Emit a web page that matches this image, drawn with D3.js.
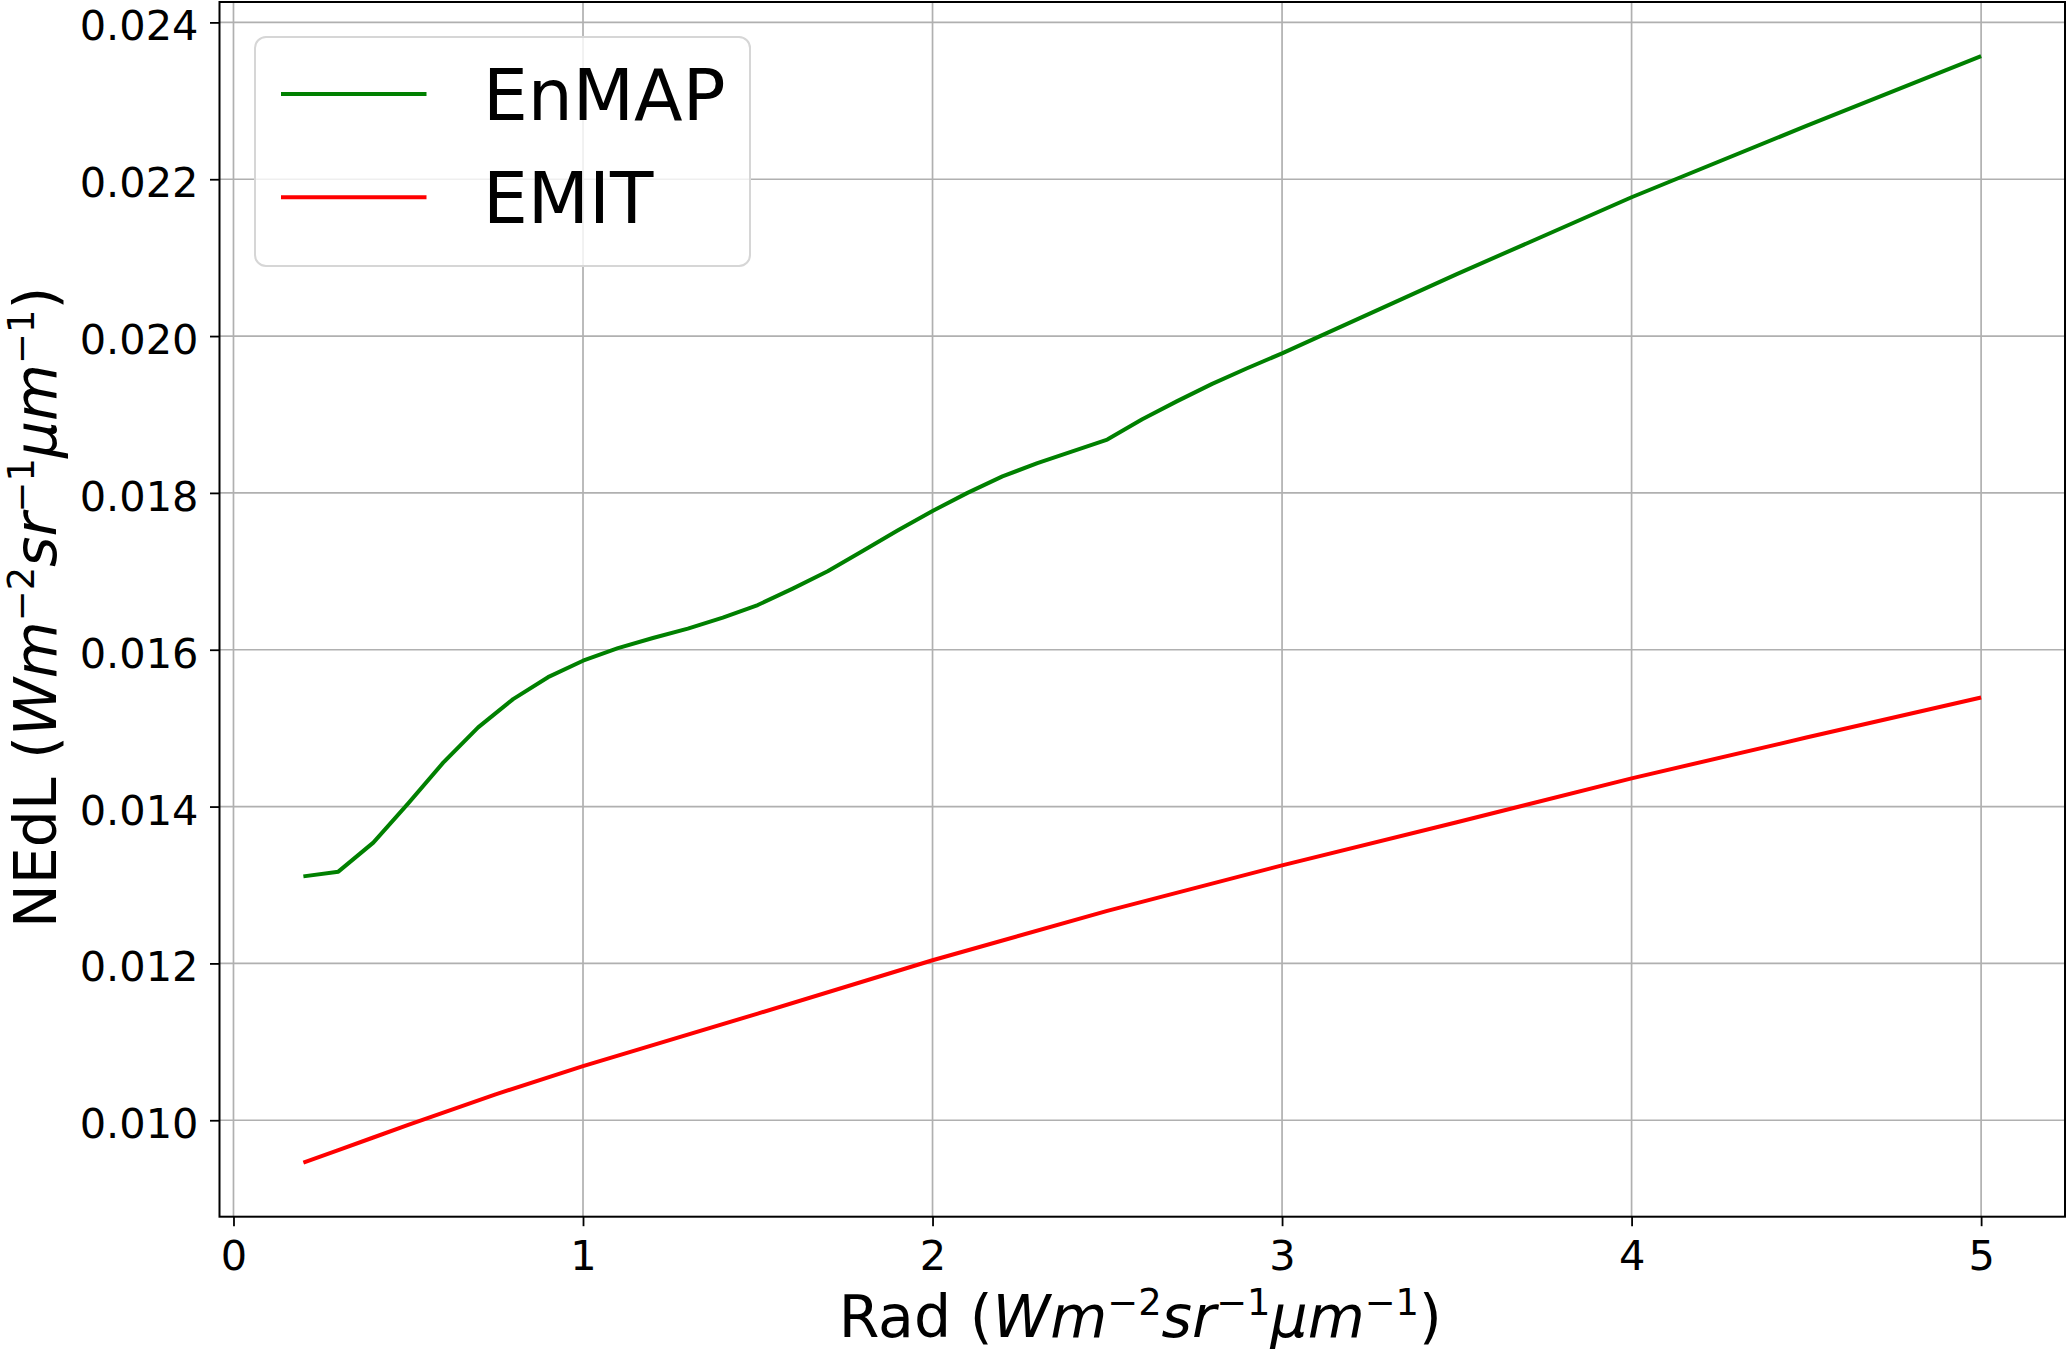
<!DOCTYPE html>
<html><head><meta charset="utf-8">
<script src="https://cdn.jsdelivr.net/npm/d3@7"></script>
<style>
html,body{margin:0;padding:0;background:#fff;}
svg{display:block;font-family:"DejaVu Sans",sans-serif;}
</style>
</head><body>
<svg id="chart" width="2067" height="1352"></svg>
<script>
// ---- data ----
const radEnMAP = [0.2,0.3,0.4,0.5,0.6,0.7,0.8,0.9,1.0,1.1,1.2,1.3,1.4,1.5,1.6,1.7,1.8,1.9,2.0,2.1,2.2,2.3,2.4,2.5,2.6,2.7,2.8,2.9,3.0,3.5,4.0,4.5,5.0];
const nedlEnMAP = [0.01311,0.01317,0.01354,0.01404,0.01456,0.01501,0.01537,0.01565,0.01586,0.01602,0.01615,0.01627,0.01641,0.01657,0.01678,0.01700,0.01726,0.01752,0.01777,0.01800,0.01821,0.01838,0.01853,0.01868,0.01894,0.01917,0.01939,0.01959,0.01978,0.02079,0.02177,0.02268,0.02357];
const radEMIT = [0.2,0.3,0.4,0.5,0.75,1.0,1.5,2.0,2.5,3.0,3.5,4.0,4.5,5.0];
const nedlEMIT = [0.00946,0.00962,0.00978,0.00994,0.01033,0.01069,0.01136,0.01204,0.01267,0.01325,0.01380,0.01436,0.01488,0.01539];
const seriesNames = ["EnMAP", "EMIT"];
const xTicks = [0, 1, 2, 3, 4, 5];
const yTicks = [0.010, 0.012, 0.014, 0.016, 0.018, 0.020, 0.022, 0.024];
const xLabelParts = [["Rad (", "n"], ["Wm", "i"], ["\u22122", "s"], ["sr", "i"], ["\u22121", "s"], ["\u03bcm", "i"], ["\u22121", "s"], [")", "n"]];
const yLabelParts = [["NEdL (", "n"], ["Wm", "i"], ["\u22122", "s"], ["sr", "i"], ["\u22121", "s"], ["\u03bcm", "i"], ["\u22121", "s"], [")", "n"]];

// ---- styles / layout ----
const colors = ["green", "red"];
const plot = {left: 219.5, top: 2, right: 2065, bottom: 1216.7};
const svg = d3.select("#chart");

const x = d3.scaleLinear().domain([-0.04, 5.24]).range([plot.left, plot.right]);
const y = d3.scaleLinear().domain([0.00877, 0.02426]).range([plot.bottom, plot.top]);

// grid
const grid = svg.append("g");
grid.selectAll("line.gx").data(xTicks).join("line")
  .attr("x1", d => x(d)).attr("x2", d => x(d))
  .attr("y1", plot.top).attr("y2", plot.bottom)
  .attr("stroke", "#b0b0b0").attr("stroke-width", 1.7);
grid.selectAll("line.gy").data(yTicks).join("line")
  .attr("y1", d => y(d)).attr("y2", d => y(d))
  .attr("x1", plot.left).attr("x2", plot.right)
  .attr("stroke", "#b0b0b0").attr("stroke-width", 1.7);

// lines
const series = [
  {name: seriesNames[0], xs: radEnMAP, ys: nedlEnMAP, color: colors[0]},
  {name: seriesNames[1], xs: radEMIT, ys: nedlEMIT, color: colors[1]}
];
const line = d3.line().x(d => x(d[0])).y(d => y(d[1]));
series.forEach(s => {
  svg.append("path")
    .datum(s.xs.map((v, i) => [v, s.ys[i]]))
    .attr("d", line)
    .attr("fill", "none")
    .attr("stroke", s.color)
    .attr("stroke-width", 4)
    .attr("stroke-linejoin", "round");
});

// axes
const xAxis = d3.axisBottom(x).tickValues(xTicks).tickFormat(d3.format("d")).tickSize(9.5).tickPadding(14);
const gx = svg.append("g").attr("transform", `translate(0,${plot.bottom})`).call(xAxis);
const yAxis = d3.axisLeft(y).tickValues(yTicks).tickFormat(d3.format(".3f")).tickSize(9.5).tickPadding(11.5);
const gy = svg.append("g").attr("transform", `translate(${plot.left},0)`).call(yAxis);
[gx, gy].forEach(g => {
  g.select(".domain").remove();
  g.selectAll(".tick line").attr("stroke", "#000").attr("stroke-width", 1.8);
  g.selectAll(".tick text").attr("fill", "#000").attr("font-size", 41.5)
    .attr("font-family", "DejaVu Sans");
});
gy.selectAll(".tick text").attr("dy", "0.42em");

// frame
svg.append("rect")
  .attr("x", plot.left).attr("y", plot.top)
  .attr("width", plot.right - plot.left).attr("height", plot.bottom - plot.top)
  .attr("fill", "none").attr("stroke", "#000").attr("stroke-width", 2);

// legend
const lg = svg.append("g");
lg.append("rect").attr("x", 255).attr("y", 37).attr("width", 495).attr("height", 229)
  .attr("rx", 11).attr("fill", "#fff").attr("fill-opacity", 0.8)
  .attr("stroke", "#d6d6d6").attr("stroke-width", 2);
const legendY = [94, 197.3];
series.forEach((s, i) => {
  lg.append("line").attr("x1", 281).attr("x2", 426.5)
    .attr("y1", legendY[i]).attr("y2", legendY[i])
    .attr("stroke", s.color).attr("stroke-width", 4);
  lg.append("text").attr("x", 483).attr("y", legendY[i] + 26)
    .attr("font-size", 71).attr("fill", "#000").text(s.name);
});

// axis labels with math-like superscripts
function mathText(t, parts, size) {
  const supSize = size * 0.63, raise = size * 0.38;
  let up = false;
  parts.forEach(([txt, kind]) => {
    const ts = t.append("tspan").text(txt);
    if (kind === "s") {
      ts.attr("font-size", supSize).attr("dy", -raise);
      up = true;
    } else {
      ts.attr("font-size", size);
      if (kind === "i") ts.attr("font-style", "italic");
      if (up) { ts.attr("dy", raise); up = false; }
    }
  });
}
const xl = svg.append("text").attr("x", (plot.left + plot.right) / 2 - 2).attr("y", 1337)
  .attr("text-anchor", "middle").attr("fill", "#000");
mathText(xl, xLabelParts, 58.5);
const yl = svg.append("text")
  .attr("transform", `translate(56,${(plot.top + plot.bottom) / 2 - 2}) rotate(-90)`)
  .attr("text-anchor", "middle").attr("fill", "#000");
mathText(yl, yLabelParts, 58.5);
</script>
</body></html>
